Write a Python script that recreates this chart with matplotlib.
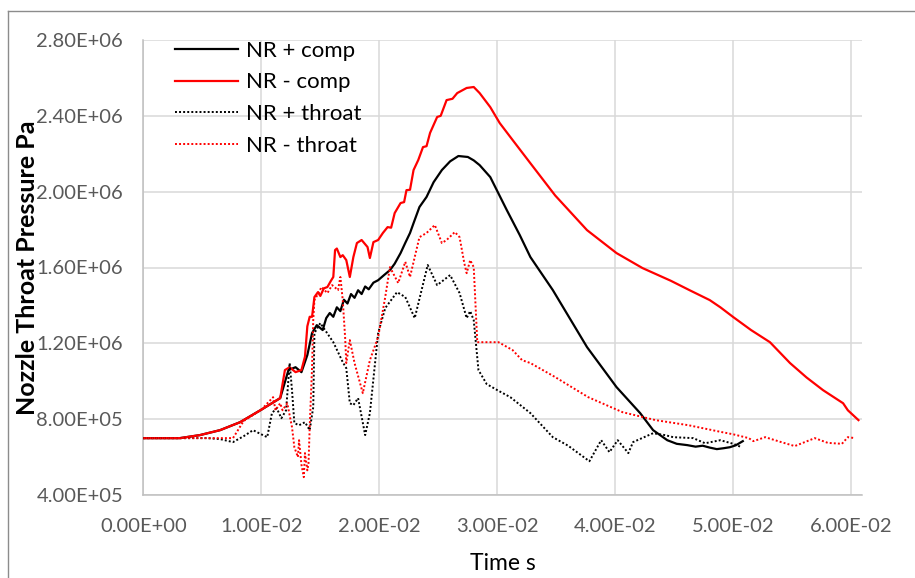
import matplotlib
matplotlib.use("Agg")
import matplotlib.pyplot as plt
from matplotlib.lines import Line2D

plt.rcParams['font.family'] = ['Lato', 'DejaVu Sans']

# Time (s) and nozzle throat pressure (Pa) for each case
t_nr_plus_comp = [0.0, 0.0031, 0.0048, 0.0065, 0.0082, 0.0100, 0.0116, 0.0123, 0.0129, 0.0134,
                  0.0139, 0.0143, 0.0147, 0.0152, 0.0155, 0.0158, 0.0161, 0.0164, 0.0167, 0.0170,
                  0.0173, 0.0176, 0.0179, 0.0182, 0.0185, 0.0188, 0.0191, 0.0195, 0.0199, 0.0204,
                  0.0209, 0.0213, 0.0218, 0.0222, 0.0226, 0.0229, 0.0234, 0.0240, 0.0246, 0.0253,
                  0.0260, 0.0267, 0.0275, 0.0280, 0.0285, 0.0294, 0.0301, 0.0308, 0.0319, 0.0328,
                  0.0347, 0.0376, 0.0401, 0.0421, 0.0432, 0.0444, 0.0452, 0.0461, 0.0468, 0.0474,
                  0.0480, 0.0486, 0.0492, 0.0497, 0.0502, 0.0508]
p_nr_plus_comp = [7.00e5, 7.00e5, 7.16e5, 7.42e5, 7.84e5, 8.50e5, 9.11e5, 10.59e5, 10.74e5, 10.48e5,
                  11.38e5, 12.54e5, 12.96e5, 12.70e5, 13.33e5, 13.60e5, 13.40e5, 13.90e5, 13.70e5, 14.30e5,
                  14.10e5, 14.60e5, 14.40e5, 14.80e5, 14.60e5, 15.00e5, 14.85e5, 15.20e5, 15.33e5, 15.60e5,
                  15.86e5, 16.20e5, 16.76e5, 17.30e5, 17.82e5, 18.34e5, 19.19e5, 19.72e5, 20.50e5, 21.14e5,
                  21.60e5, 21.88e5, 21.83e5, 21.65e5, 21.40e5, 20.77e5, 19.90e5, 19.03e5, 17.71e5, 16.55e5,
                  14.81e5, 11.80e5, 9.69e5, 8.32e5, 7.42e5, 6.89e5, 6.70e5, 6.63e5, 6.55e5, 6.60e5,
                  6.50e5, 6.42e5, 6.47e5, 6.52e5, 6.62e5, 6.84e5]

t_nr_minus_comp = [0.0, 0.0031, 0.0048, 0.0065, 0.0082, 0.0100, 0.0116, 0.0120, 0.0124, 0.0129,
                   0.0134, 0.0137, 0.0139, 0.0141, 0.0143, 0.0145, 0.0148, 0.0150, 0.0153, 0.0156,
                   0.0159, 0.0161, 0.01625, 0.0164, 0.0167, 0.0169, 0.0172, 0.0175, 0.0178, 0.0181,
                   0.0185, 0.0190, 0.0192, 0.0195, 0.0199, 0.0203, 0.0207, 0.0210, 0.0213, 0.0218,
                   0.0221, 0.0223, 0.0226, 0.0229, 0.0233, 0.0237, 0.0240, 0.0243, 0.0249, 0.0252,
                   0.0257, 0.0262, 0.0266, 0.0274, 0.0280, 0.0285, 0.0294, 0.0302, 0.0313, 0.0328,
                   0.0349, 0.0376, 0.0401, 0.0423, 0.0447, 0.0463, 0.0480, 0.0489, 0.0500, 0.0515,
                   0.0531, 0.0548, 0.0562, 0.0576, 0.0593, 0.0597, 0.0606]
p_nr_minus_comp = [7.00e5, 7.00e5, 7.16e5, 7.42e5, 7.84e5, 8.50e5, 9.11e5, 10.59e5, 10.74e5, 10.48e5,
                   10.59e5, 11.30e5, 12.90e5, 13.40e5, 13.40e5, 14.44e5, 14.70e5, 14.50e5, 14.90e5, 14.97e5,
                   15.30e5, 15.50e5, 16.92e5, 17.00e5, 16.55e5, 16.65e5, 16.39e5, 15.50e5, 16.55e5, 17.29e5,
                   17.45e5, 17.08e5, 16.50e5, 17.34e5, 17.45e5, 17.82e5, 18.13e5, 18.10e5, 18.87e5, 19.40e5,
                   19.45e5, 20.08e5, 20.10e5, 21.14e5, 21.67e5, 22.35e5, 22.40e5, 23.10e5, 23.94e5, 24.00e5,
                   24.83e5, 24.90e5, 25.20e5, 25.47e5, 25.52e5, 25.20e5, 24.46e5, 23.62e5, 22.72e5, 21.50e5,
                   19.80e5, 17.97e5, 16.76e5, 15.97e5, 15.30e5, 14.80e5, 14.28e5, 13.90e5, 13.38e5, 12.70e5,
                   12.06e5, 10.96e5, 10.20e5, 9.53e5, 8.84e5, 8.47e5, 7.95e5]

t_nr_plus_throat = [0.0, 0.0031, 0.0054, 0.0065, 0.0076, 0.0085, 0.0093, 0.0100, 0.0105, 0.0109,
                    0.0113, 0.0117, 0.0121, 0.0124, 0.0126, 0.0128, 0.0132, 0.0137, 0.0141, 0.0144,
                    0.0145, 0.0150, 0.0154, 0.0161, 0.0169, 0.0172, 0.0175, 0.0178, 0.0182, 0.0188,
                    0.0192, 0.0199, 0.0205, 0.0215, 0.0222, 0.0230, 0.0241, 0.0249, 0.0260, 0.0268,
                    0.0274, 0.0277, 0.0280, 0.0284, 0.0291, 0.0300, 0.0311, 0.0328, 0.0347, 0.0360,
                    0.0378, 0.0388, 0.0395, 0.0402, 0.0411, 0.0415, 0.0432, 0.0442, 0.0449, 0.0466,
                    0.0476, 0.0489, 0.0500, 0.0507]
p_nr_plus_throat = [7.00e5, 7.00e5, 7.00e5, 6.95e5, 6.79e5, 7.10e5, 7.42e5, 7.20e5, 7.05e5, 8.32e5,
                    8.58e5, 8.05e5, 8.47e5, 10.96e5, 9.53e5, 7.79e5, 7.68e5, 7.84e5, 7.42e5, 8.63e5,
                    12.54e5, 13.07e5, 12.70e5, 12.06e5, 11.01e5, 10.69e5, 8.84e5, 8.74e5, 9.11e5, 7.16e5,
                    8.32e5, 12.54e5, 13.86e5, 14.70e5, 14.44e5, 13.33e5, 16.13e5, 15.07e5, 15.60e5, 14.65e5,
                    13.33e5, 13.70e5, 13.22e5, 10.59e5, 9.85e5, 9.53e5, 9.16e5, 8.32e5, 7.05e5, 6.60e5,
                    5.78e5, 6.89e5, 6.26e5, 6.89e5, 6.21e5, 6.79e5, 7.26e5, 7.16e5, 7.05e5, 7.00e5,
                    6.73e5, 6.89e5, 6.70e5, 6.52e5]

t_nr_minus_throat = [0.0, 0.0031, 0.0054, 0.0076, 0.0085, 0.0100, 0.0110, 0.0112, 0.0116, 0.0118,
                     0.0122, 0.0126, 0.0128, 0.0131, 0.0132, 0.0134, 0.0136, 0.0137, 0.0139, 0.0140,
                     0.0141, 0.0143, 0.0144, 0.0145, 0.0148, 0.0151, 0.0156, 0.0160, 0.0165, 0.0167,
                     0.0169, 0.0171, 0.0172, 0.0175, 0.0179, 0.0186, 0.0192, 0.0199, 0.0205, 0.0209,
                     0.0216, 0.0222, 0.0226, 0.0234, 0.0240, 0.0247, 0.0253, 0.0257, 0.0264, 0.0268,
                     0.0272, 0.0274, 0.0277, 0.0280, 0.0283, 0.0291, 0.0301, 0.0313, 0.0321, 0.0328,
                     0.0349, 0.0377, 0.0406, 0.0434, 0.0462, 0.0490, 0.0500, 0.0513, 0.0517, 0.0527,
                     0.0540, 0.0552, 0.0569, 0.0580, 0.0592, 0.0597, 0.0603]
p_nr_minus_throat = [7.00e5, 7.00e5, 7.00e5, 7.00e5, 7.90e5, 8.50e5, 9.16e5, 8.47e5, 8.84e5, 8.47e5,
                     8.84e5, 7.58e5, 6.52e5, 6.00e5, 6.89e5, 5.60e5, 4.94e5, 6.21e5, 5.30e5, 5.68e5,
                     7.58e5, 10.74e5, 13.22e5, 14.28e5, 14.60e5, 14.97e5, 14.65e5, 15.07e5, 14.81e5, 15.50e5,
                     14.28e5, 12.33e5, 10.96e5, 12.17e5, 10.96e5, 9.37e5, 11.11e5, 12.33e5, 14.44e5, 16.02e5,
                     15.18e5, 16.30e5, 15.50e5, 17.60e5, 17.82e5, 18.24e5, 17.29e5, 17.45e5, 17.87e5, 17.60e5,
                     16.23e5, 15.70e5, 16.39e5, 16.02e5, 12.06e5, 12.06e5, 12.06e5, 11.64e5, 11.11e5, 10.96e5,
                     10.22e5, 9.16e5, 8.37e5, 7.95e5, 7.68e5, 7.32e5, 7.20e5, 7.00e5, 6.84e5, 7.05e5,
                     6.80e5, 6.58e5, 7.00e5, 6.75e5, 6.70e5, 7.05e5, 7.00e5]

series_labels = ["NR + comp", "NR - comp", "NR + throat", "NR - throat"]

x_ticks = [0.0, 0.01, 0.02, 0.03, 0.04, 0.05, 0.06]
x_tick_labels = ["0.00E+00", "1.00E-02", "2.00E-02", "3.00E-02", "4.00E-02", "5.00E-02", "6.00E-02"]
y_ticks = [4.0e5, 8.0e5, 1.2e6, 1.6e6, 2.0e6, 2.4e6, 2.8e6]
y_tick_labels = ["4.00E+05", "8.00E+05", "1.20E+06", "1.60E+06", "2.00E+06", "2.40E+06", "2.80E+06"]

W, H = 915, 578
fig = plt.figure(figsize=(W / 100, H / 100), dpi=100)
ax = fig.add_axes([143.3 / W, 1 - 495 / H, (862 - 143.3) / W, (495 - 40) / H])

solid_lw = 1.6
dot_style = (0, (1.0, 1.1))
dot_lw = 1.4

ax.plot(t_nr_plus_comp, p_nr_plus_comp, color="black", lw=solid_lw, zorder=3)
ax.plot(t_nr_minus_comp, p_nr_minus_comp, color="#ff0000", lw=solid_lw, zorder=3)
ax.plot(t_nr_plus_throat, p_nr_plus_throat, color="black", lw=dot_lw, ls=dot_style, zorder=3)
ax.plot(t_nr_minus_throat, p_nr_minus_throat, color="#ff0000", lw=dot_lw, ls=dot_style, zorder=3)

ax.set_xlim(0, 0.0609)
ax.set_ylim(4.0e5, 2.8e6)
ax.set_xticks(x_ticks)
ax.set_xticklabels(x_tick_labels)
ax.set_yticks(y_ticks)
ax.set_yticklabels(y_tick_labels)
ax.tick_params(length=0, labelsize=14.5, labelcolor="#595959")
ax.tick_params(axis="y", pad=14.5)
ax.tick_params(axis="x", pad=16.5)

ax.grid(True, color="#d9d9d9", lw=1.1)
ax.set_axisbelow(True)
for side in ("top", "right"):
    ax.spines[side].set_visible(False)
for side in ("left", "bottom"):
    ax.spines[side].set_color("#bfbfbf")
    ax.spines[side].set_linewidth(1.1)

ax.set_ylabel("Nozzle Throat Pressure Pa", fontsize=18, fontweight="bold")
ax.yaxis.set_label_coords(-0.145, 0.5)
ax.set_xlabel("Time s", fontsize=16.5)
ax.xaxis.set_label_coords(0.5, -0.128)

handles = [
    Line2D([], [], color="black", lw=solid_lw),
    Line2D([], [], color="#ff0000", lw=solid_lw),
    Line2D([], [], color="black", lw=dot_lw, ls=dot_style),
    Line2D([], [], color="#ff0000", lw=dot_lw, ls=dot_style),
]
ax.legend(handles, series_labels, loc="upper left", bbox_to_anchor=(0.0316, 1.0176),
          frameon=False, fontsize=16, handlelength=2.84, handletextpad=0.36,
          labelspacing=0.52, borderaxespad=0)

# outer chart border (top and left edges)
fig.add_artist(Line2D([8 / W, 1], [1 - 10.7 / H, 1 - 10.7 / H], color="#8c8c8c", lw=1.0))
fig.add_artist(Line2D([8 / W, 8 / W], [0, 1 - 10.7 / H], color="#8c8c8c", lw=1.0))

fig.savefig("out.png", dpi=100)
